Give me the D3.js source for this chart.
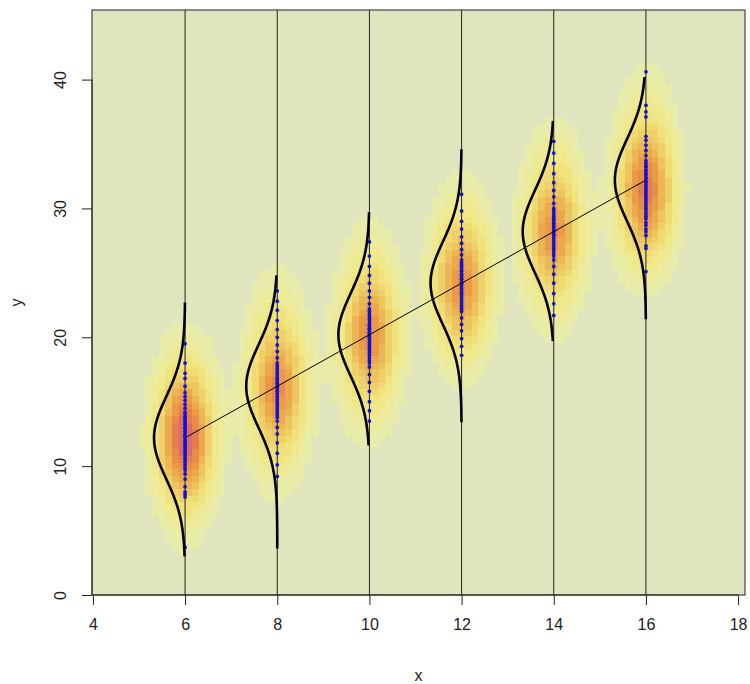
<!DOCTYPE html>
<html>
<head>
<meta charset="utf-8">
<script src="https://cdn.jsdelivr.net/npm/d3@7"></script>
<style>
  body { margin: 0; background: #fff; }
  svg text { font-family: "Liberation Sans", Arial, sans-serif; fill: #222; }
</style>
</head>
<body>
<svg id="chart" width="750" height="684"></svg>
<script>
// group positions on x
const groupX = [6, 8, 10, 12, 14, 16];

const yAt6 = [3.7, 7.6, 7.8, 8.0, 8.4, 9.0, 9.4, 9.7, 9.9, 10.1, 10.3, 10.5, 10.6, 10.8, 11.0, 11.1, 11.3, 11.5, 11.6, 11.8, 11.9, 12.0, 12.2, 12.3, 12.4, 12.6, 12.7, 12.9, 13.0, 13.2, 13.3, 13.5, 13.6, 13.8, 13.9, 14.1, 14.2, 14.5, 14.8, 15.1, 15.4, 15.7, 16.2, 16.8, 17.2, 18.0, 19.5];
const yAt8 = [9.2, 10.1, 11.0, 11.8, 12.5, 13.0, 13.5, 13.8, 14.0, 14.2, 14.4, 14.6, 14.8, 15.0, 15.2, 15.4, 15.6, 15.8, 15.9, 16.1, 16.2, 16.4, 16.5, 16.7, 16.8, 17.0, 17.2, 17.4, 17.6, 17.8, 18.0, 18.4, 18.9, 19.4, 20.0, 20.6, 21.3, 22.1, 22.8, 23.6];
const yAt10 = [13.5, 14.3, 15.0, 15.8, 16.5, 17.1, 17.7, 18.0, 18.2, 18.4, 18.6, 18.8, 19.0, 19.2, 19.4, 19.6, 19.8, 20.0, 20.1, 20.3, 20.4, 20.6, 20.7, 20.9, 21.0, 21.2, 21.4, 21.6, 21.8, 22.0, 22.2, 22.6, 23.1, 23.6, 24.2, 24.8, 25.5, 26.3, 27.4];
const yAt12 = [18.6, 19.3, 19.9, 20.5, 21.0, 21.5, 22.0, 22.2, 22.4, 22.6, 22.8, 23.0, 23.2, 23.4, 23.6, 23.8, 24.0, 24.2, 24.3, 24.5, 24.6, 24.8, 24.9, 25.1, 25.2, 25.4, 25.6, 25.8, 26.0, 26.4, 26.8, 27.3, 27.8, 28.4, 29.0, 29.8, 31.1];
const yAt14 = [21.7, 22.6, 23.4, 24.2, 24.9, 25.5, 26.0, 26.3, 26.5, 26.7, 26.9, 27.1, 27.3, 27.5, 27.7, 27.9, 28.0, 28.2, 28.3, 28.5, 28.6, 28.8, 28.9, 29.1, 29.2, 29.4, 29.6, 29.8, 30.0, 30.4, 30.9, 31.4, 32.0, 32.7, 33.5, 34.3, 35.2];
const yAt16 = [25.1, 26.9, 27.1, 27.9, 28.2, 28.4, 28.7, 28.9, 29.2, 29.4, 29.6, 29.8, 30.0, 30.2, 30.4, 30.6, 30.8, 31.0, 31.2, 31.4, 31.6, 31.8, 32.0, 32.1, 32.3, 32.4, 32.6, 32.7, 32.9, 33.0, 33.2, 33.3, 33.5, 33.7, 34.1, 34.5, 34.9, 35.3, 35.6, 37.1, 37.5, 38.0, 40.6];
const groupY = [yAt6, yAt8, yAt10, yAt12, yAt14, yAt16];

// fitted line and residual spread
const fitIntercept = 0.2;
const fitSlope = 2.0;
const residSd = 3.2;
// y range over which each normal curve is drawn
const curveLo = [3.0, 3.6, 11.6, 13.4, 19.7, 21.4];
const curveHi = [22.7, 24.8, 29.7, 34.6, 36.8, 40.2];

const xTicks = [4, 6, 8, 10, 12, 14, 16, 18];
const yTicks = [0, 10, 20, 30, 40];

// heat palette, first entry is the empty background
const heatColors = ['#e1e5be', '#e9eba8', '#edeb9a', '#efe98b', '#f0e37e', '#f0db72', '#efd068',
  '#eec45e', '#edb655', '#eca84d', '#eb9a48', '#e88c48', '#e47c52', '#dc6a68'];

const svg = d3.select('svg#chart');
const box = { left: 92, right: 745, top: 10, bottom: 595 };

const x = d3.scaleLinear().domain([3.98, 18.15]).range([box.left, box.right]);
const y = d3.scaleLinear().domain([0, 45.4]).range([box.bottom, box.top]);

// flatten points
const points = [];
groupX.forEach((gx, i) => groupY[i].forEach(v => points.push({ x: gx, y: v })));

// simple 2d gaussian density on a grid covering the plot box
const nx = 98, ny = 88;
const hx = 0.41, hy = 2.6;
const [x0, x1] = x.domain();
const [y0, y1] = y.domain();
const dx = (x1 - x0) / nx, dy = (y1 - y0) / ny;
const cells = [];
for (let i = 0; i < nx; i++) {
  for (let j = 0; j < ny; j++) {
    const cx = x0 + (i + 0.5) * dx;
    const cy = y0 + (j + 0.5) * dy;
    let s = 0;
    points.forEach(p => {
      const u = (cx - p.x) / hx, v = (cy - p.y) / hy;
      s += Math.exp(-0.5 * (u * u + v * v));
    });
    cells.push({ i, j, d: s });
  }
}
const dMax = d3.max(cells, c => c.d);
const color = d3.scaleQuantize().domain([0, dMax]).range(heatColors);

svg.append('clipPath').attr('id', 'plotclip')
  .append('rect')
  .attr('x', box.left).attr('y', box.top)
  .attr('width', box.right - box.left).attr('height', box.bottom - box.top);

const plot = svg.append('g').attr('clip-path', 'url(#plotclip)');

plot.append('g')
  .selectAll('rect')
  .data(cells)
  .enter()
  .append('rect')
  .attr('x', c => x(x0 + c.i * dx))
  .attr('y', c => y(y0 + (c.j + 1) * dy))
  .attr('width', x(x0 + dx) - x(x0) + 0.5)
  .attr('height', y(y0) - y(y0 + dy) + 0.5)
  .attr('fill', c => color(c.d))
  .attr('shape-rendering', 'crispEdges');

// vertical guide lines
plot.append('g')
  .selectAll('line')
  .data(groupX)
  .enter()
  .append('line')
  .attr('x1', d => x(d)).attr('x2', d => x(d))
  .attr('y1', box.top).attr('y2', box.bottom)
  .attr('stroke', '#222')
  .attr('stroke-width', 1);

// points
plot.append('g')
  .selectAll('circle')
  .data(points)
  .enter()
  .append('circle')
  .attr('cx', p => x(p.x))
  .attr('cy', p => y(p.y))
  .attr('r', 1.9)
  .attr('fill', '#1212d2');

// normal density curves, laid on their side to the left of each line
const dnorm = (v, m, s) => Math.exp(-0.5 * ((v - m) / s) ** 2) / (s * Math.sqrt(2 * Math.PI));
const curveScale = 5.4;
const curveLine = d3.line().x(d => x(d[0])).y(d => y(d[1]));
groupX.forEach((gx, i) => {
  const m = fitIntercept + fitSlope * gx;
  const pts = d3.range(curveLo[i], curveHi[i] + 0.001, 0.05)
    .map(v => [gx - curveScale * dnorm(v, m, residSd), v]);
  plot.append('path')
    .attr('d', curveLine(pts))
    .attr('fill', 'none')
    .attr('stroke', '#000')
    .attr('stroke-width', 2.6);
});

// fitted line
const fx = d3.extent(groupX);
plot.append('line')
  .attr('x1', x(fx[0])).attr('y1', y(fitIntercept + fitSlope * fx[0]))
  .attr('x2', x(fx[1])).attr('y2', y(fitIntercept + fitSlope * fx[1]))
  .attr('stroke', '#000')
  .attr('stroke-width', 1);

// frame
svg.append('rect')
  .attr('x', box.left).attr('y', box.top)
  .attr('width', box.right - box.left).attr('height', box.bottom - box.top)
  .attr('fill', 'none')
  .attr('stroke', '#222');

// axes
const xAxis = svg.append('g')
  .attr('transform', `translate(0,${box.bottom})`)
  .call(d3.axisBottom(x).tickValues(xTicks).tickSize(10).tickPadding(14).tickSizeOuter(0));
xAxis.select('.domain').attr('d', `M${x(4)},0H${x(18)}`).attr('stroke', '#222');
xAxis.selectAll('.tick line').attr('stroke', '#222');
xAxis.selectAll('text').attr('font-size', 16).style('fill', '#222');

const yAxis = svg.append('g')
  .attr('transform', `translate(${box.left},0)`)
  .call(d3.axisLeft(y).tickValues(yTicks).tickSize(10).tickSizeOuter(0));
yAxis.select('.domain').attr('d', `M0,${y(0)}V${y(40)}`).attr('stroke', '#222');
yAxis.selectAll('.tick line').attr('stroke', '#222');
yAxis.selectAll('text')
  .attr('font-size', 16)
  .attr('x', null)
  .attr('text-anchor', 'middle')
  .attr('transform', 'translate(-32,0) rotate(-90)')
  .attr('dy', '0.35em')
  .style('fill', '#222');

svg.append('text')
  .attr('x', (box.left + box.right) / 2)
  .attr('y', 681)
  .attr('text-anchor', 'middle')
  .attr('font-size', 16)
  .text('x');

svg.append('text')
  .attr('transform', `translate(22,${(box.top + box.bottom) / 2}) rotate(-90)`)
  .attr('text-anchor', 'middle')
  .attr('font-size', 16)
  .text('y');
</script>
</body>
</html>
